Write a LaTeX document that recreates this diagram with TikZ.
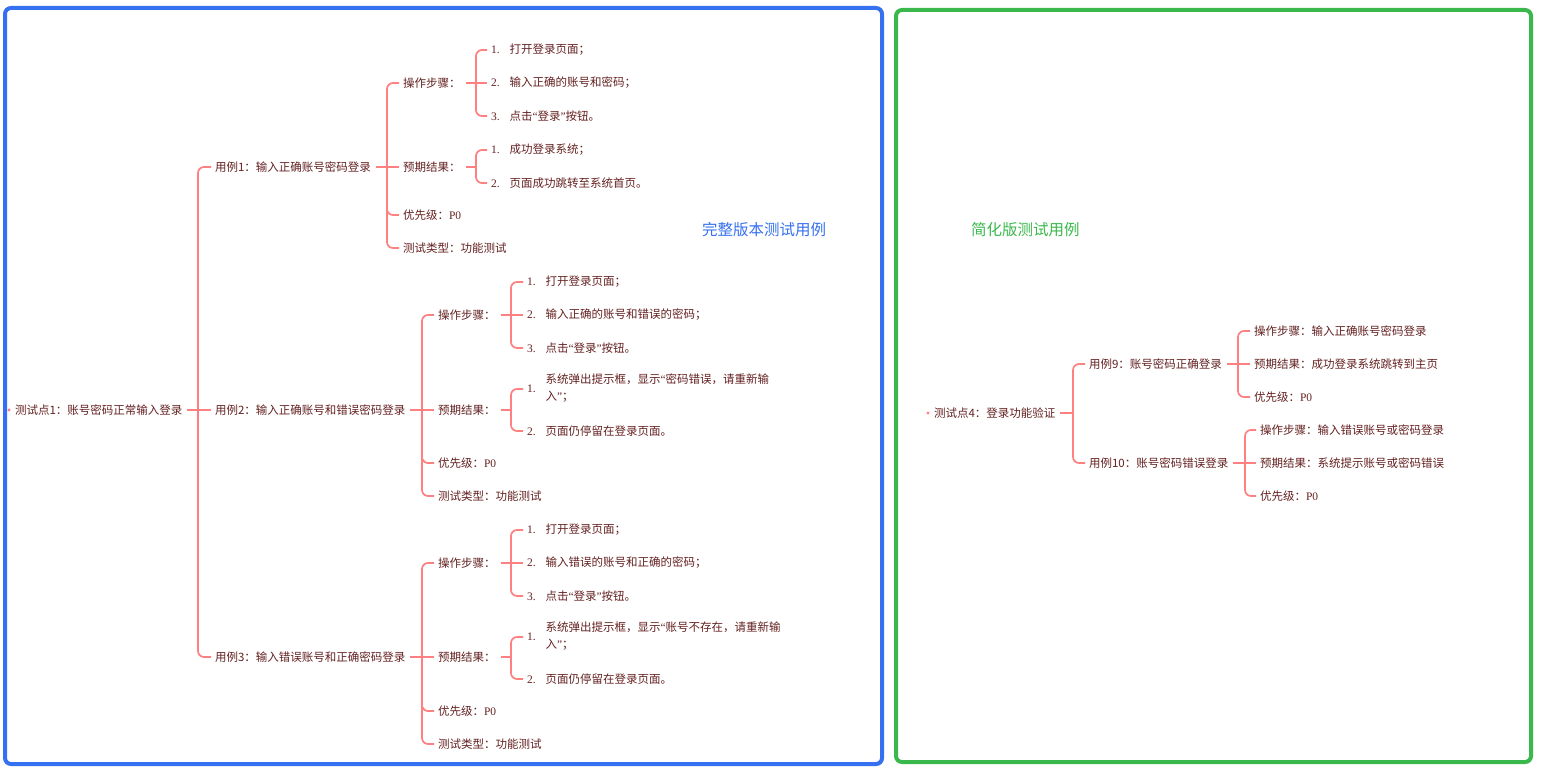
\documentclass[tikz,border=0pt]{standalone}
\usepackage{fontspec}
\setmainfont{Noto Sans CJK SC}
\newfontfamily\latinserif{Liberation Serif}
\newcommand\sn[1]{{\latinserif #1}}
\newcommand\numlbl[1]{\makebox[18.5pt][l]{\sn{#1}}}
\newcommand\oqt{\sn{“}}
\newcommand\cqt{\sn{”}}
\definecolor{linec}{RGB}{255,128,128}
\definecolor{txtc}{RGB}{100,32,32}
\definecolor{boxblue}{RGB}{52,112,240}
\definecolor{boxgreen}{RGB}{58,184,76}
\begin{document}
\begin{tikzpicture}[x=1pt,y=-1pt,
  conn/.style={draw=linec,line width=1.7pt,rounded corners=6pt},
  cin/.style={conn,shorten >=4pt},
  cout/.style={conn,shorten <=5pt},
  tx/.style={anchor=west,inner sep=0pt,outer sep=0pt,text=txtc,font=\fontsize{11.5pt}{17pt}\selectfont},
  lbl/.style={anchor=west,inner sep=0pt,font=\fontsize{15.5pt}{18pt}\selectfont},
  frame/.style={line width=4pt,rounded corners=6pt}]
\useasboundingbox (0,0) rectangle (1541,776);

% ---------- left tree ----------
\fill[linec] (9,410) circle (1.6);
\node[tx] (r1) at (15,410) {测试点1：账号密码正常输入登录};
\coordinate (t0) at (198,410);
\node[tx] (u1) at (215,167) {用例1：输入正确账号密码登录};
\node[tx] (u2) at (215,410) {用例2：输入正确账号和错误密码登录};
\node[tx] (u3) at (215,657) {用例3：输入错误账号和正确密码登录};
\draw[cout] (r1.east) -- (t0);
\draw[cin] (t0) |- (u1.west);
\draw[cin] (t0) -- (u2.west);
\draw[cin] (t0) |- (u3.west);

% case 1
\coordinate (t1) at (387,167);
\node[tx] (a1) at (403,83) {操作步骤：};
\node[tx] (b1) at (403,167) {预期结果：};
\node[tx] (c1) at (403,215) {优先级：\sn{P0}};
\node[tx] (d1) at (403,248) {测试类型：功能测试};
\draw[cout] (u1.east) -- (t1);
\draw[cin] (t1) |- (a1.west);
\draw[cin] (t1) -- (b1.west);
\draw[cin] (t1) |- (c1.west);
\draw[cin] (t1) |- (d1.west);

\coordinate (ta1) at (476,83);
\node[tx] (a1s1) at (491,50) {\numlbl{1.}打开登录页面；};
\node[tx] (a1s2) at (491,83) {\numlbl{2.}输入正确的账号和密码；};
\node[tx] (a1s3) at (491,116) {\numlbl{3.}点击\oqt 登录\cqt 按钮。};
\draw[cout] (a1.east) -- (ta1);
\draw[cin] (ta1) |- (a1s1.west);
\draw[cin] (ta1) -- (a1s2.west);
\draw[cin] (ta1) |- (a1s3.west);

\coordinate (tb1) at (476,167);
\node[tx] (b1s1) at (491,150) {\numlbl{1.}成功登录系统；};
\node[tx] (b1s2) at (491,183) {\numlbl{2.}页面成功跳转至系统首页。};
\draw[cout] (b1.east) -- (tb1);
\draw[cin] (tb1) |- (b1s1.west);
\draw[cin] (tb1) |- (b1s2.west);

% case 2
\coordinate (t2) at (422,410);
\node[tx] (a2) at (438,315) {操作步骤：};
\node[tx] (b2) at (438,410) {预期结果：};
\node[tx] (c2) at (438,463) {优先级：\sn{P0}};
\node[tx] (d2) at (438,496) {测试类型：功能测试};
\draw[cout] (u2.east) -- (t2);
\draw[cin] (t2) |- (a2.west);
\draw[cin] (t2) -- (b2.west);
\draw[cin] (t2) |- (c2.west);
\draw[cin] (t2) |- (d2.west);

\coordinate (ta2) at (511,315);
\node[tx] (a2s1) at (527,282) {\numlbl{1.}打开登录页面；};
\node[tx] (a2s2) at (527,315) {\numlbl{2.}输入正确的账号和错误的密码；};
\node[tx] (a2s3) at (527,348) {\numlbl{3.}点击\oqt 登录\cqt 按钮。};
\draw[cout] (a2.east) -- (ta2);
\draw[cin] (ta2) |- (a2s1.west);
\draw[cin] (ta2) -- (a2s2.west);
\draw[cin] (ta2) |- (a2s3.west);

\coordinate (tb2) at (511,410);
\node[tx] (b2s1) at (527,389) {\numlbl{1.}\begin{tabular}{@{}l@{}}系统弹出提示框，显示\oqt 密码错误，请重新输\\入\cqt ；\end{tabular}};
\node[tx] (b2s2) at (527,431) {\numlbl{2.}页面仍停留在登录页面。};
\draw[cout] (b2.east) -- (tb2);
\draw[cin] (tb2) |- (b2s1.west);
\draw[cin] (tb2) |- (b2s2.west);

% case 3
\coordinate (t3) at (422,657);
\node[tx] (a3) at (438,563) {操作步骤：};
\node[tx] (b3) at (438,657) {预期结果：};
\node[tx] (c3) at (438,711) {优先级：\sn{P0}};
\node[tx] (d3) at (438,744) {测试类型：功能测试};
\draw[cout] (u3.east) -- (t3);
\draw[cin] (t3) |- (a3.west);
\draw[cin] (t3) -- (b3.west);
\draw[cin] (t3) |- (c3.west);
\draw[cin] (t3) |- (d3.west);

\coordinate (ta3) at (511,563);
\node[tx] (a3s1) at (527,530) {\numlbl{1.}打开登录页面；};
\node[tx] (a3s2) at (527,563) {\numlbl{2.}输入错误的账号和正确的密码；};
\node[tx] (a3s3) at (527,596) {\numlbl{3.}点击\oqt 登录\cqt 按钮。};
\draw[cout] (a3.east) -- (ta3);
\draw[cin] (ta3) |- (a3s1.west);
\draw[cin] (ta3) -- (a3s2.west);
\draw[cin] (ta3) |- (a3s3.west);

\coordinate (tb3) at (511,657);
\node[tx] (b3s1) at (527,637) {\numlbl{1.}\begin{tabular}{@{}l@{}}系统弹出提示框，显示\oqt 账号不存在，请重新输\\入\cqt ；\end{tabular}};
\node[tx] (b3s2) at (527,679) {\numlbl{2.}页面仍停留在登录页面。};
\draw[cout] (b3.east) -- (tb3);
\draw[cin] (tb3) |- (b3s1.west);
\draw[cin] (tb3) |- (b3s2.west);

% ---------- right tree ----------
\fill[linec] (928,413) circle (1.6);
\node[tx] (r4) at (934,413) {测试点4：登录功能验证};
\coordinate (t4) at (1073,413);
\node[tx] (u9) at (1089,364) {用例9：账号密码正确登录};
\node[tx] (u10) at (1089,463) {用例10：账号密码错误登录};
\draw[cout] (r4.east) -- (t4);
\draw[cin] (t4) |- (u9.west);
\draw[cin] (t4) |- (u10.west);

\coordinate (t9) at (1238,364);
\node[tx] (a9) at (1254,331) {操作步骤：输入正确账号密码登录};
\node[tx] (b9) at (1254,364) {预期结果：成功登录系统跳转到主页};
\node[tx] (c9) at (1254,397) {优先级：\sn{P0}};
\draw[cout] (u9.east) -- (t9);
\draw[cin] (t9) |- (a9.west);
\draw[cin] (t9) -- (b9.west);
\draw[cin] (t9) |- (c9.west);

\coordinate (t10) at (1245,463);
\node[tx] (a10) at (1260,430) {操作步骤：输入错误账号或密码登录};
\node[tx] (b10) at (1260,463) {预期结果：系统提示账号或密码错误};
\node[tx] (c10) at (1260,496) {优先级：\sn{P0}};
\draw[cout] (u10.east) -- (t10);
\draw[cin] (t10) |- (a10.west);
\draw[cin] (t10) -- (b10.west);
\draw[cin] (t10) |- (c10.west);

% ---------- labels and frames ----------
\node[lbl,text=boxblue] (lblue) at (702,230) {完整版本测试用例};
\node[lbl,text=boxgreen] (lgreen) at (971,230) {简化版测试用例};
\draw[frame,draw=boxblue] (5,8) rectangle (882,764);
\draw[frame,draw=boxgreen] (896,10) rectangle (1531,762);
\end{tikzpicture}
\end{document}
